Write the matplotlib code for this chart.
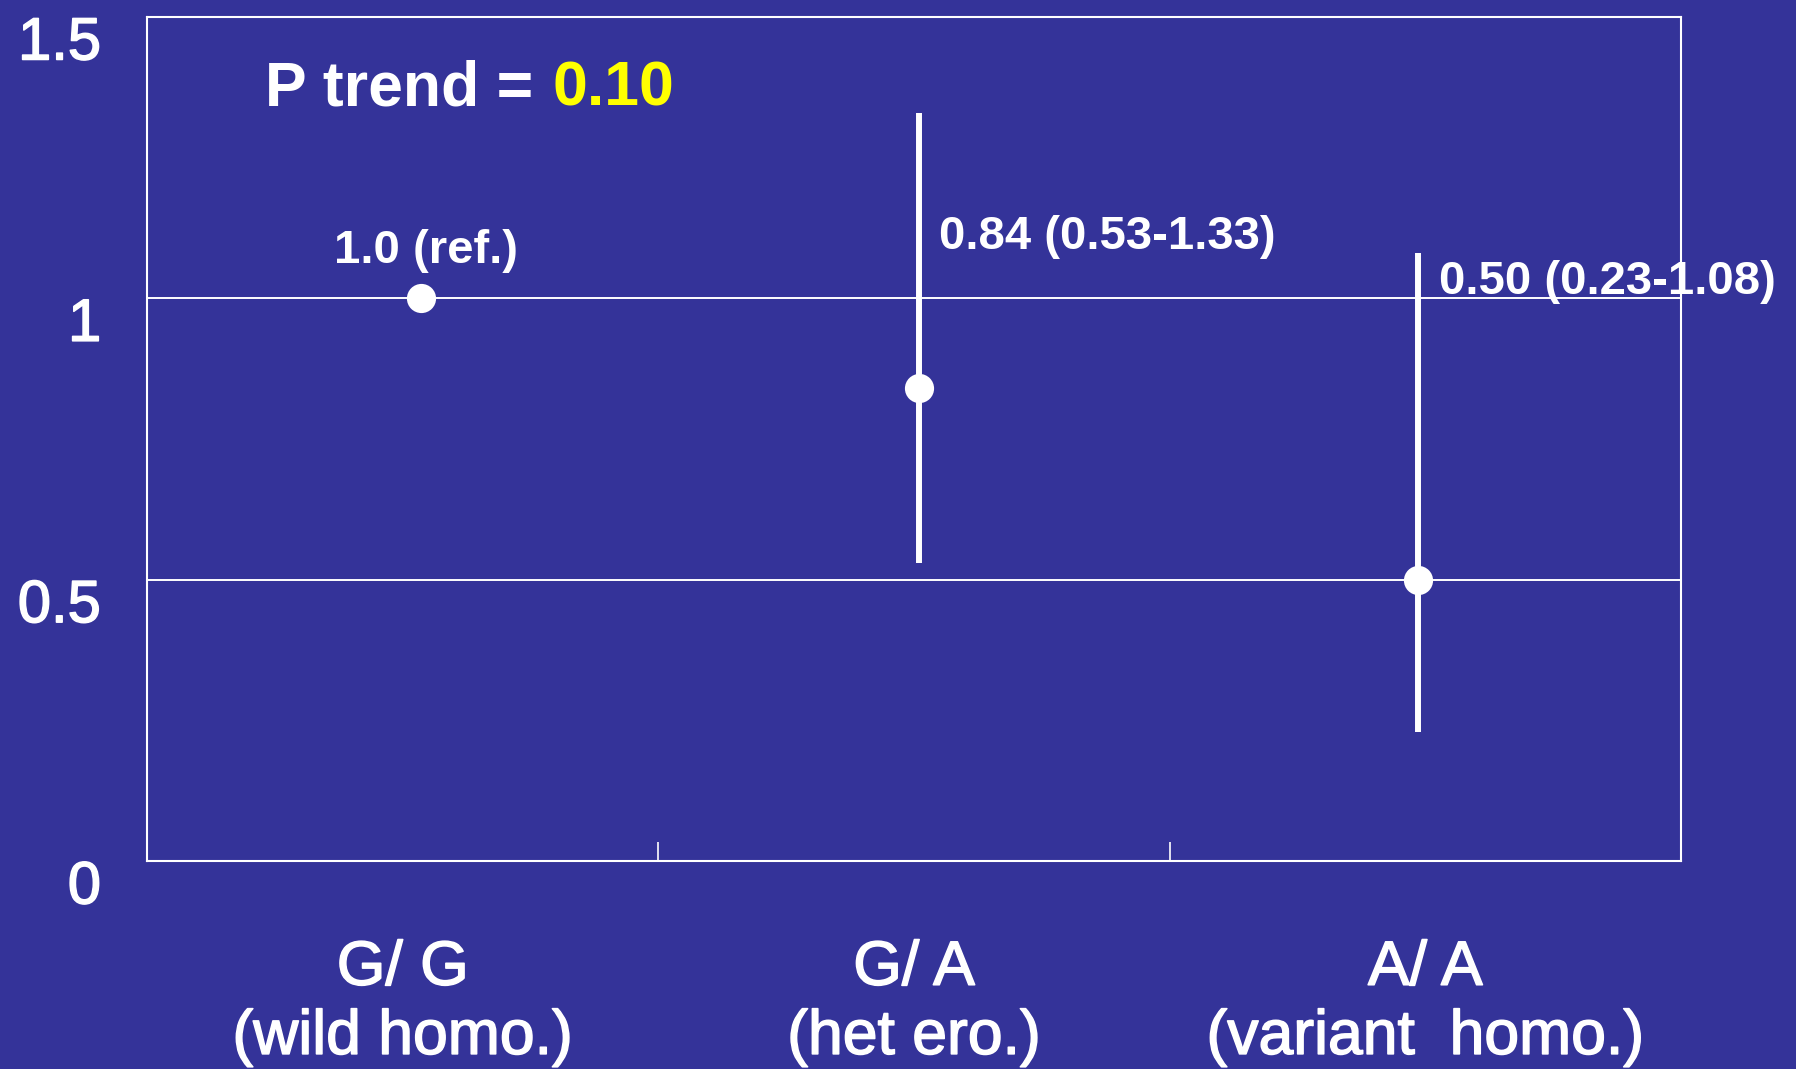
import matplotlib
matplotlib.use("Agg")
import matplotlib.pyplot as plt
import matplotlib.patheffects as pe
from matplotlib.ticker import FixedLocator
from matplotlib.transforms import ScaledTranslation

plt.rcParams["font.family"] = ["Liberation Sans", "DejaVu Sans"]

# odds ratios with 95% CI per genotype
genotypes = ["G/ G\n(wild homo.)", "G/ A\n(het ero.)", "A/ A\n(variant  homo.)"]
odds = [1.0, 0.84, 0.50]
ci_low = [None, 0.53, 0.23]
ci_high = [None, 1.33, 1.08]
or_labels = ["1.0 (ref.)", "0.84 (0.53-1.33)", "0.50 (0.23-1.08)"]
p_trend = "0.10"
yticks = [0, 0.5, 1, 1.5]
ytick_labels = ["0", "0.5", "1", "1.5"]

bg = "#343399"
fg = "white"
# a little extra weight for the regular-weight axis text
heavier = [pe.withStroke(linewidth=1.1, foreground=fg)]

fig = plt.figure(figsize=(17.96, 10.69), dpi=100, facecolor=bg)
ax = fig.add_axes([147 / 1796, 1 - 861 / 1069, 1534 / 1796, 844 / 1069])
ax.set_facecolor(bg)

# point positions inside each category slot
xpos = [0.535, 1.51, 2.485]

for x, o, lo, hi in zip(xpos, odds, ci_low, ci_high):
    if lo is not None:
        ax.plot([x, x], [lo, hi], color=fg, lw=4.3, solid_capstyle="butt", zorder=3)
    ax.plot(x, o, "o", color=fg, ms=21, mec="none", zorder=4)

# value labels
label_pos = [(0.366, 1.063), (1.549, 1.088), (2.526, 1.008)]
for (lx, ly), txt in zip(label_pos, or_labels):
    ax.text(lx, ly, txt, color=fg, fontsize=34, fontweight="bold", ha="left", va="baseline")

t1 = ax.text(0.23, 1.319, "P trend =", color=fg, fontsize=45, fontweight="bold",
             ha="left", va="bottom")
ax.annotate(p_trend, xy=(1, 0), xycoords=t1, xytext=(14, 0), textcoords="offset points",
            color="#ffff00", fontsize=45, fontweight="bold", ha="left", va="bottom")

ax.set_xlim(0, 3)
ax.set_ylim(0, 1.5)

ax.set_yticks(yticks)
ax.set_yticklabels(ytick_labels, fontsize=43, color=fg)
ax.tick_params(axis="y", length=0, pad=33)
shift = ScaledTranslation(0, -21 / 100, fig.dpi_scale_trans)
for lbl in ax.get_yticklabels():
    lbl.set_transform(lbl.get_transform() + shift)
    lbl.set_path_effects(heavier)

ax.set_xticks([0.5, 1.5, 2.5])
ax.set_xticklabels(genotypes, fontsize=45, color=fg, linespacing=1.22)
for lbl in ax.get_xticklabels():
    lbl.set_path_effects(heavier)
ax.tick_params(axis="x", which="major", length=0, pad=56)
ax.xaxis.set_minor_locator(FixedLocator([1, 2]))
ax.tick_params(axis="x", which="minor", direction="in", length=14, width=1.2, color=fg)

for yg in [0.5, 1.0]:
    ax.axhline(yg, color=fg, lw=1.4, zorder=1)

for sp in ax.spines.values():
    sp.set_color(fg)
    sp.set_linewidth(1.5)

fig.savefig("out.png", dpi=100, facecolor=bg)
